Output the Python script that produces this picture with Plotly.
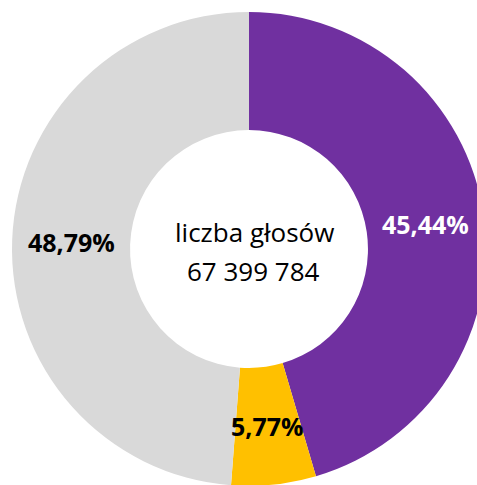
import math
import plotly.graph_objects as go

categories = ["Segment A", "Segment B", "Segment C"]
values = [45.44, 5.77, 48.79]
colors = ["#7030A0", "#FFC000", "#D9D9D9"]
label_colors = ["white", "black", "black"]
center_lines = ["liczba głosów", "67 399 784"]

W, H = 490, 490
cx, cy, R = 249, 249, 237
HOLE = 0.502

labels_text = [f"{v:.2f}%".replace(".", ",") for v in values]

fig = go.Figure(go.Pie(
    labels=categories,
    values=values,
    textinfo="none",
    marker=dict(colors=colors, line=dict(width=0)),
    hole=HOLE,
    sort=False,
    direction="clockwise",
    rotation=0,
    domain=dict(x=[(cx - R) / W, (cx + R) / W], y=[1 - (cy + R) / H, 1 - (cy - R) / H]),
    showlegend=False,
    hoverinfo="skip",
))

# slice labels at the mid-radius of each slice, at the slice's mid angle
total = sum(values)
rm = R * (1 + HOLE) / 2
cum = 0.0
for v, t, c in zip(values, labels_text, label_colors):
    mid = (cum + v / 2) / total * 2 * math.pi
    cum += v
    px = cx + rm * math.sin(mid)
    py = cy - rm * math.cos(mid)
    fig.add_annotation(text=t, x=px / W, y=1 - py / H, xref="paper", yref="paper",
                       showarrow=False, xanchor="center", yanchor="middle",
                       font=dict(family="Open Sans", size=25, color=c, weight="bold"))

fig.add_annotation(text=center_lines[0], x=254.5 / W, y=1 - 232 / H, xref="paper", yref="paper",
                   showarrow=False, xanchor="center", yanchor="middle",
                   font=dict(family="Open Sans", size=26, color="black"))
fig.add_annotation(text=center_lines[1], x=253.5 / W, y=1 - 271 / H, xref="paper", yref="paper",
                   showarrow=False, xanchor="center", yanchor="middle",
                   font=dict(family="Open Sans", size=26, color="black"))

fig.update_layout(
    width=W, height=H,
    margin=dict(l=0, r=0, t=0, b=0),
    paper_bgcolor="white",
    plot_bgcolor="white",
)

fig.write_html("out.html", config={"displayModeBar": False},
               post_script="document.body.style.margin='0';document.body.style.overflow='hidden';document.documentElement.style.overflow='hidden';")
